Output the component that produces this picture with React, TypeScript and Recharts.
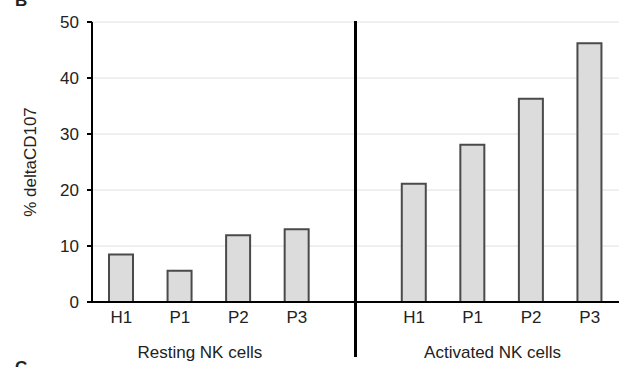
import React from "react";
import {
  BarChart,
  Bar,
  XAxis,
  YAxis,
  CartesianGrid,
  ReferenceLine,
} from "recharts";

// slots: four resting, one empty gap (divider), four activated
const slotIds = ["r-H1", "r-P1", "r-P2", "r-P3", "gap", "a-H1", "a-P1", "a-P2", "a-P3"];
const slotLabels = ["H1", "P1", "P2", "P3", "", "H1", "P1", "P2", "P3"];
const restingValues = [8.5, 5.6, 11.9, 13.0];
const activatedValues = [21.1, 28.1, 36.3, 46.2];
const groupLabels: Record<number, string> = { 1: "Resting NK cells", 6: "Activated NK cells" };
const yTicks = [0, 10, 20, 30, 40, 50];

const FONT = "'Liberation Sans', Arial, sans-serif";
const TEXT = "#222";
const BAR_FILL = "#dcdcdc";
const BAR_STROKE = "#4a4a4a";

const values = [...restingValues, null, ...activatedValues];
const chartData = slotIds.map((id, i) => ({ id, label: slotLabels[i], value: values[i] }));

function CategoryTick(props: any) {
  const { x, y, index } = props;
  const label = slotLabels[index];
  const group = groupLabels[index];
  return (
    <g>
      {label && (
        <text x={x} y={y} dy={21} textAnchor="middle" fontSize={17} fontFamily={FONT} fill={TEXT}>
          {label}
        </text>
      )}
      {group && (
        <text x={x} y={y} dx={20} dy={56} textAnchor="middle" fontSize={17} fontFamily={FONT} fill={TEXT}>
          {group}
        </text>
      )}
    </g>
  );
}

function Divider(props: any) {
  const { x1, y1, x2, y2 } = props;
  const top = Math.min(y1, y2);
  const bottom = Math.max(y1, y2);
  return <line x1={x1} y1={top - 1} x2={x2} y2={bottom + 55} stroke="#000" strokeWidth={3} />;
}

export default function App() {
  return (
    <div style={{ position: "relative", width: 625, height: 367, background: "#fff", overflow: "hidden" }}>
      <style>{`body{margin:0;}`}</style>
      <BarChart
        width={625}
        height={367}
        data={chartData}
        margin={{ top: 22, right: 6, left: 0, bottom: 0 }}
        barSize={24}
      >
        <CartesianGrid horizontal vertical={false} stroke="#e0e0e0" strokeWidth={1} />
        <XAxis
          dataKey="id"
          height={65}
          tickLine={false}
          tickSize={0}
          tickMargin={0}
          axisLine={{ stroke: "#000", strokeWidth: 2 }}
          tick={<CategoryTick />}
          interval={0}
        />
        <YAxis
          width={92}
          domain={[0, 50]}
          ticks={yTicks}
          tickSize={5}
          tickMargin={8}
          axisLine={{ stroke: "#000", strokeWidth: 2 }}
          tickLine={{ stroke: "#000", strokeWidth: 2 }}
          tick={{ fontSize: 17, fontFamily: FONT, fill: TEXT }}
          label={{
            value: "% deltaCD107",
            angle: -90,
            position: "insideLeft",
            offset: 30,
            style: { textAnchor: "middle", fontSize: 17, fontFamily: FONT, fill: TEXT },
          }}
        />
        <Bar dataKey="value" fill={BAR_FILL} stroke={BAR_STROKE} strokeWidth={2} isAnimationActive={false} />
        <ReferenceLine
          segment={[{ x: "gap", y: 50 }, { x: "gap", y: 0 }]}
          shape={<Divider />}
        />
      </BarChart>
      <div style={{ position: "absolute", left: 15, top: -9, fontFamily: FONT, fontSize: 17, fontWeight: 700, color: TEXT }}>B</div>
      <div style={{ position: "absolute", left: 15, top: 358, fontFamily: FONT, fontSize: 17, fontWeight: 700, color: TEXT }}>C</div>
    </div>
  );
}
